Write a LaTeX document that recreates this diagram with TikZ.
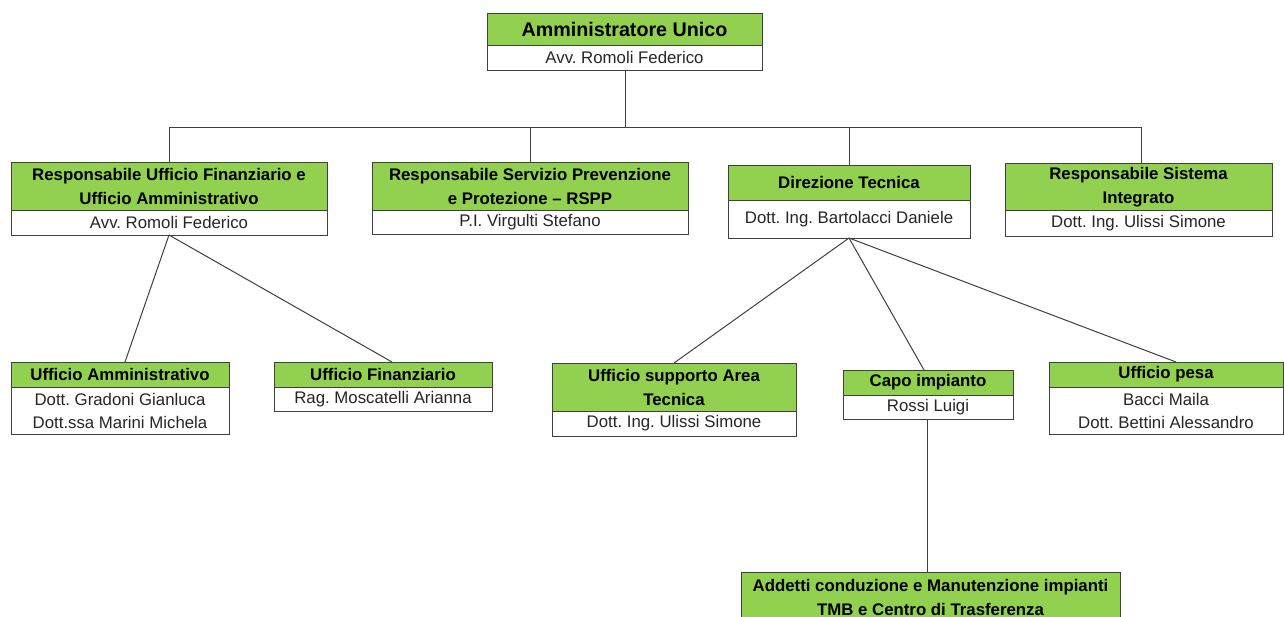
\documentclass[tikz,border=0pt]{standalone}
\usepackage{fontspec}
\setmainfont{Liberation Sans}
\frenchspacing
\definecolor{hdr}{HTML}{92D050}
\definecolor{edge}{HTML}{404040}
\definecolor{nametxt}{HTML}{262626}
\begin{document}
\frenchspacing
\begin{tikzpicture}[x=1pt,y=-1pt,
  box/.style={draw=edge, line width=1pt, anchor=north west, inner sep=0pt, outer sep=0pt, align=center},
  hd/.style={box, fill=hdr, font=\bfseries\fontsize{16.8}{24}\selectfont},
  nm/.style={box, fill=white, text=nametxt, font=\fontsize{16.8}{23}\selectfont},
  conn/.style={draw=edge, line width=1pt}]
\useasboundingbox (0,0) rectangle (1284,616);
\clip (0,0) rectangle (1284,616);
\fill[white] (0,0) rectangle (1284,616);

% top
\node[hd, minimum width=275pt, minimum height=32pt, font=\bfseries\fontsize{19.7}{24}\selectfont] (auh) at (487,13) {Amministratore Unico};
\node[nm, minimum width=275pt, minimum height=25pt] (aun) at (487,45) {\raisebox{-1.5pt}{Avv. Romoli Federico}};

% second row
\node[hd, minimum width=316pt, minimum height=48pt] (b1h) at (11,162) {Responsabile Ufficio Finanziario e\\Ufficio Amministrativo};
\node[nm, minimum width=316pt, minimum height=25pt] (b1n) at (11,210) {\raisebox{-1.5pt}{Avv. Romoli Federico}};

\node[hd, minimum width=316pt, minimum height=48pt] (b2h) at (372,162) {Responsabile Servizio Prevenzione\\e Protezione -- RSPP};
\node[nm, minimum width=316pt, minimum height=24pt] (b2n) at (372,210) {\raisebox{-2pt}{P.I. Virgulti Stefano}};

\node[hd, minimum width=242pt, minimum height=35pt] (b3h) at (728,165) {Direzione Tecnica};
\node[nm, minimum width=242pt, minimum height=38pt] (b3n) at (728,200) {\raisebox{-1pt}{Dott. Ing. Bartolacci Daniele}};

\node[hd, minimum width=267pt, minimum height=47pt] (b4h) at (1005,163) {\raisebox{-3.5pt}{\begin{tabular}{@{}c@{}}Responsabile Sistema\\Integrato\end{tabular}}};
\node[nm, minimum width=267pt, minimum height=26pt] (b4n) at (1005,210) {\raisebox{-1.5pt}{Dott. Ing. Ulissi Simone}};

% third row
\node[hd, minimum width=218pt, minimum height=25pt] (uah) at (11,362) {Ufficio Amministrativo};
\node[nm, minimum width=218pt, minimum height=47pt] (uan) at (11,387) {Dott. Gradoni Gianluca\\Dott.ssa Marini Michela};

\node[hd, minimum width=218pt, minimum height=25pt] (ufh) at (274,362) {Ufficio Finanziario};
\node[nm, minimum width=218pt, minimum height=24pt] (ufn) at (274,387) {\raisebox{-1.5pt}{Rag. Moscatelli Arianna}};

\node[hd, minimum width=244pt, minimum height=48pt] (ush) at (552,363) {Ufficio supporto Area\\Tecnica};
\node[nm, minimum width=244pt, minimum height=25pt] (usn) at (552,411) {\raisebox{-1.5pt}{Dott. Ing. Ulissi Simone}};

\node[hd, minimum width=170pt, minimum height=25pt] (cih) at (843,370) {\raisebox{-1.5pt}{Capo impianto}};
\node[nm, minimum width=170pt, minimum height=24pt] (cin) at (843,395) {\raisebox{-1.5pt}{Rossi Luigi}};

\node[hd, minimum width=234pt, minimum height=25pt] (uph) at (1049,362) {Ufficio pesa};
\node[nm, minimum width=234pt, minimum height=47pt] (upn) at (1049,387) {Bacci Maila\\Dott. Bettini Alessandro};

% bottom
\node[hd, minimum width=379pt, minimum height=50pt] (adh) at (741,572) {Addetti conduzione e Manutenzione impianti\\TMB e Centro di Trasferenza};

% connectors
\coordinate (busL) at (169,127);
\coordinate (busR) at (1141,127);
\draw[conn] ([xshift=1pt]aun.south) -- ([xshift=1pt]aun.south |- busL);
\draw[conn] (busL) -- (busR);
\draw[conn] (b1h.north) -- (b1h.north |- busL);
\draw[conn] (b2h.north) -- (b2h.north |- busL);
\draw[conn] (b3h.north) -- (b3h.north |- busL);
\draw[conn] ([xshift=2.5pt]b4h.north) -- ([xshift=2.5pt]b4h.north |- busL);

\draw[conn] (b1n.south) -- ([xshift=5pt]uah.north);
\draw[conn] (b1n.south) -- ([xshift=9pt]ufh.north);

\draw[conn] (b3n.south) -- (ush.north);
\draw[conn] (b3n.south) -- ([xshift=-4pt]cih.north);
\draw[conn] (b3n.south) -- ([xshift=10pt]uph.north);

\draw[conn] ([xshift=-1pt]cin.south) -- ([xshift=-1pt]cin.south |- adh.north);
\end{tikzpicture}
\end{document}
